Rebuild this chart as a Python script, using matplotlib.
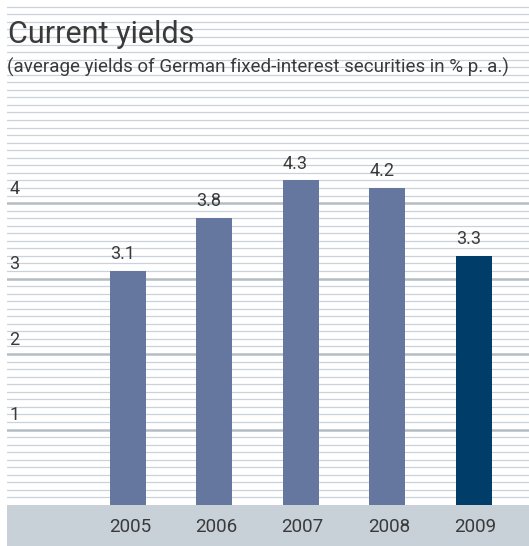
import matplotlib
matplotlib.use("Agg")
import matplotlib.pyplot as plt
import numpy as np

# Current yields, German fixed-interest securities
years = ["2005", "2006", "2007", "2008", "2009"]
yields = [3.1, 3.8, 4.3, 4.2, 3.3]
bar_colors = ["#66779f", "#66779f", "#66779f", "#66779f", "#003d69"]
major_ticks = [1, 2, 3, 4]

plt.rcParams["font.family"] = ["Roboto", "DejaVu Sans"]
text_color = "#3a3a3a"

fig = plt.figure(figsize=(5.29, 5.46), dpi=100)
ax = fig.add_axes([7 / 529, 0, 522 / 529, 1])
ax.set_xlim(-1.4, 4.64)
ax.set_ylim(-0.543, 6.69)
ax.axis("off")

# ruled background: thin line every 0.1, heavier line at each whole unit
for v in np.arange(0.1, 6.65, 0.1):
    if any(abs(v - m) < 1e-6 for m in major_ticks):
        continue
    ax.axhline(v, color="#c9d2da", lw=0.9, zorder=0)
for m in major_ticks:
    ax.axhline(m, color="#b2bdc5", lw=1.8, zorder=0)
    ax.text(-1.37, m + 0.07, str(m), fontsize=13, color=text_color,
            ha="left", va="bottom")

# grey band carrying the year labels
ax.axhspan(-0.543, 0, color="#c8d0d8", lw=0, zorder=1)

x = np.arange(len(years))
ax.bar(x, yields, width=0.416, color=bar_colors, zorder=2)

for xi, yi in zip(x, yields):
    ax.annotate(f"{yi:.1f}", (xi - 0.208, yi), xytext=(0, 8.5),
                textcoords="offset points", ha="left", va="baseline",
                fontsize=13, color=text_color)
    ax.text(xi + 0.02, -0.29, years[xi], ha="center", va="center",
            fontsize=13.5, color=text_color)

fig.text(8 / 529, 1 - 43 / 546, "Current yields", fontsize=22,
         color=text_color, va="baseline")
fig.text(7 / 529, 1 - 73 / 546,
         "(average yields of German fixed-interest securities in % p.\u2009a.)",
         fontsize=13.5, color=text_color, va="baseline",
         family=["Roboto", "DejaVu Sans"])

fig.savefig("out.png", dpi=100)
